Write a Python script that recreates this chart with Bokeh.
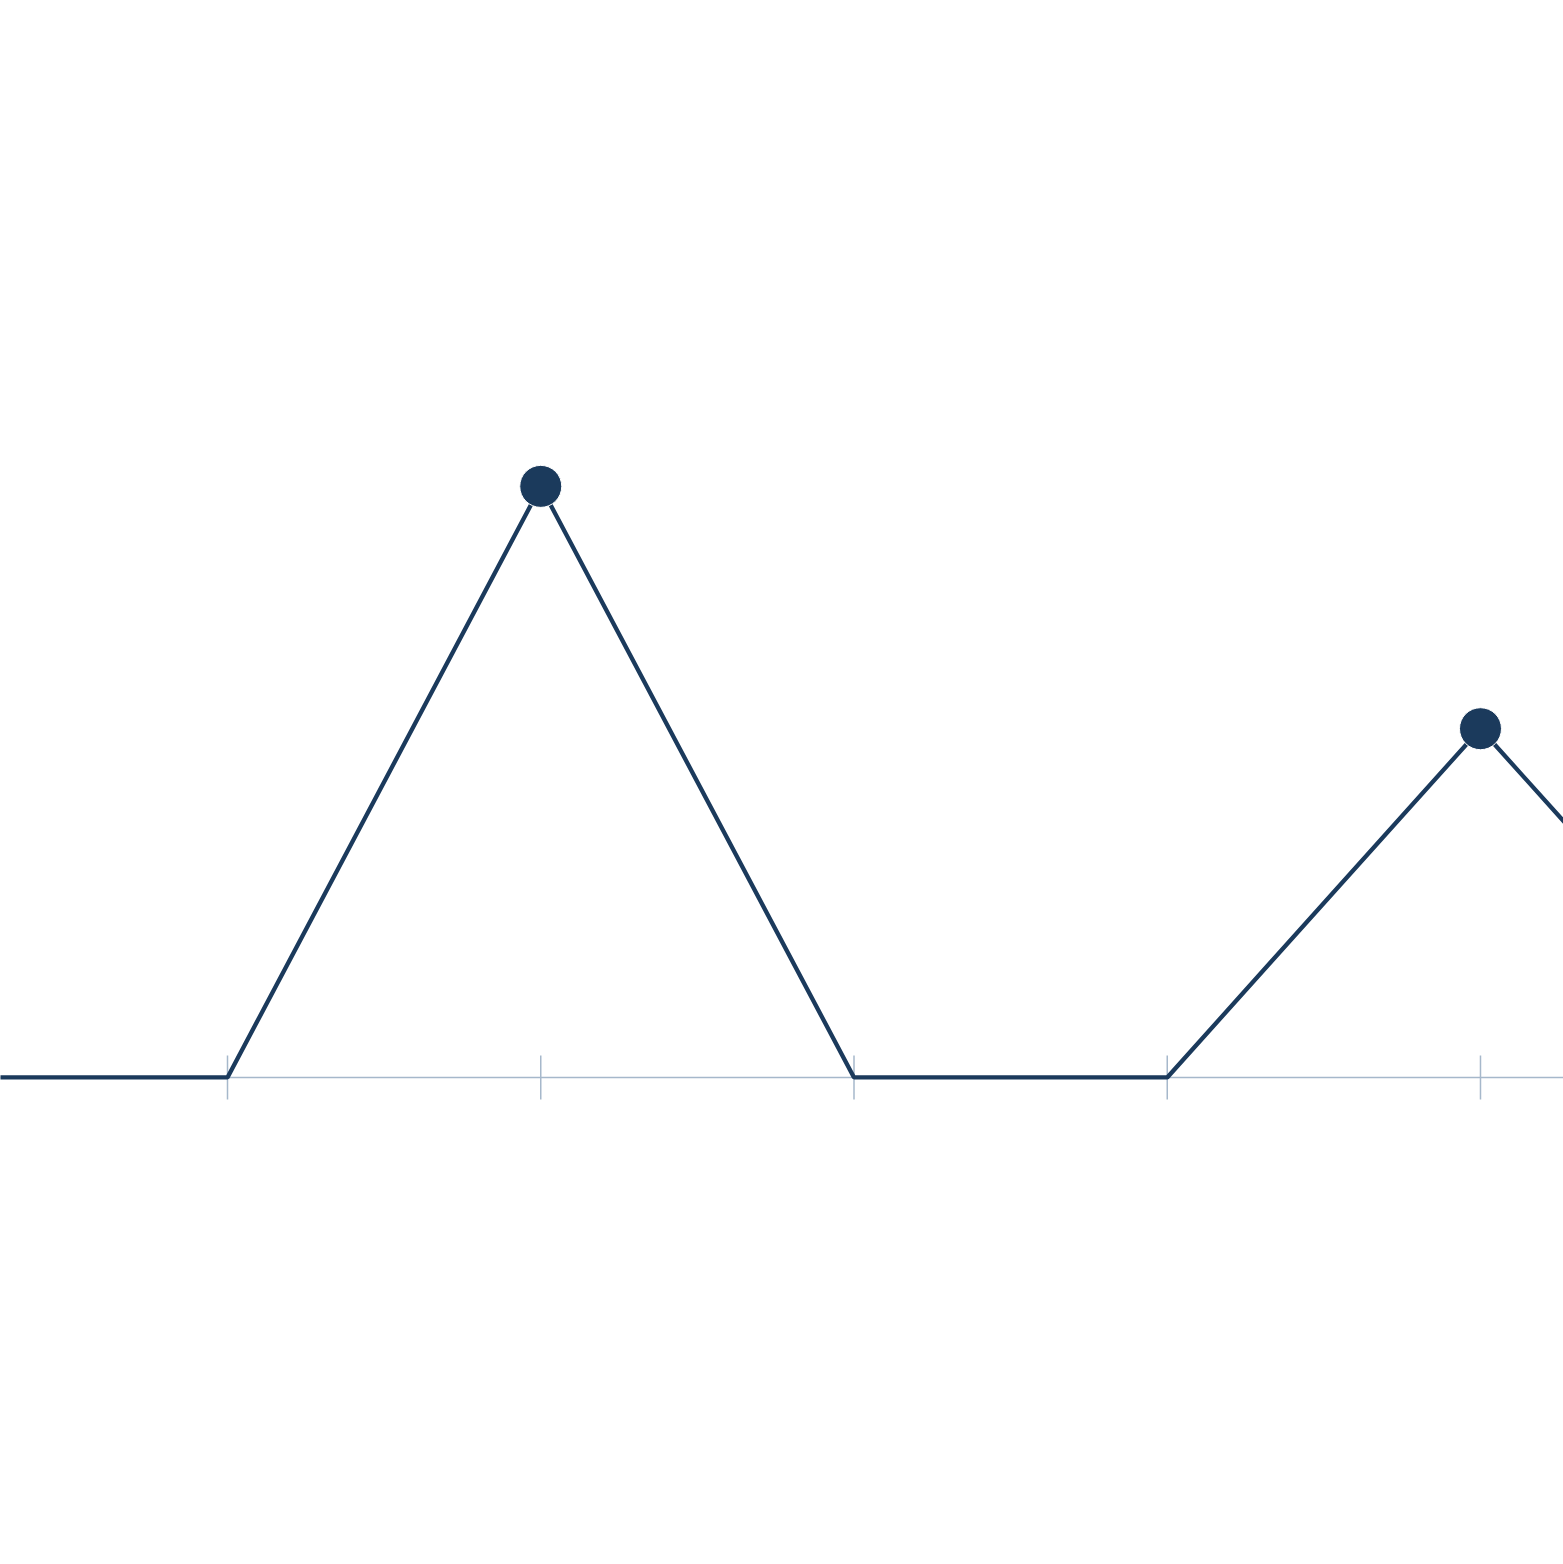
from bokeh.plotting import figure
from bokeh.models import Range1d, Span
from bokeh.embed import file_html
from bokeh.resources import INLINE

# data
x_index = [0, 1, 2, 3, 4, 5, 6]
values = [0, 0, 100, 0, 0, 59, 0]
tick_positions = [1, 2, 3, 4, 5]

LINE_COLOR = "#1b3a5c"
AXIS_COLOR = "#a6b8cb"

p = figure(width=1563, height=1564, output_backend="svg", toolbar_location=None,
           x_range=Range1d(0.2753, 5.2650), y_range=Range1d(-82.4, 182.2),
           min_border=0, min_border_left=0, min_border_right=0,
           min_border_top=0, min_border_bottom=0)
p.axis.visible = False
p.grid.visible = False
p.outline_line_color = None
p.background_fill_color = "white"
p.border_fill_color = "white"

# axis baseline (drawn beneath the series)
p.add_layout(Span(location=0, dimension="width", line_color=AXIS_COLOR, line_width=1.5,
                  level="underlay"))
# tick marks
p.scatter(x=tick_positions, y=[0] * len(tick_positions), marker="dash", size=44,
          angle=1.5708, line_color=AXIS_COLOR, line_width=1.5)

# series
p.line(x=x_index, y=values, line_color=LINE_COLOR, line_width=4.3)
px = [x for x, v in zip(x_index, values) if v != 0]
pv = [v for v in values if v != 0]
p.scatter(x=px, y=pv, size=42, fill_color=LINE_COLOR, line_color="white", line_width=1)

open("out.html", "w").write(file_html(p, INLINE))
